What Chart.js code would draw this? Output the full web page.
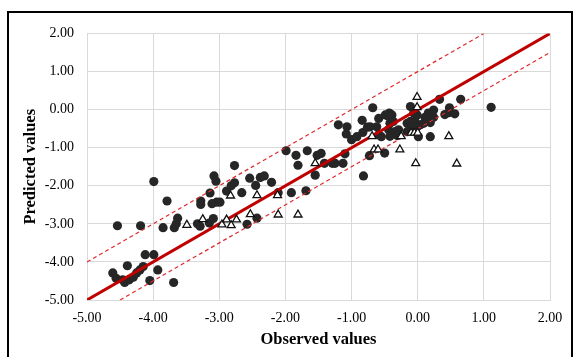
<!DOCTYPE html>
<html>
<head>
<meta charset="utf-8">
<script src="https://cdn.jsdelivr.net/npm/chart.js@4.4.1/dist/chart.umd.min.js"></script>
<style>
  html, body { margin: 0; padding: 0; background: #fff; }
  #wrap { position: relative; width: 576px; height: 357px; overflow: hidden; }
  #frame { position: absolute; left: 7px; top: 11px; width: 562px; height: 400px; border: 2px solid #000; pointer-events: none; }
  canvas { position: absolute; left: 0; top: 0; }
</style>
</head>
<body>
<div id="wrap">
  <canvas id="c" width="576" height="357"></canvas>
  <div id="frame"></div>
</div>
<script>
// Training set (filled circles): observed / predicted
const dotObserved = [
  -4.61, -4.56, -4.46, -4.43, -4.36, -4.30, -4.25, -4.20, -4.15, -4.39,
  -4.12, -3.99, -4.05, -3.93, -3.69, -3.99, -3.79, -4.54, -4.19, -3.85,
  -3.68, -3.63, -3.65, -3.33, -3.29, -3.15, -3.09, -3.28, -3.28, -3.14,
  -3.11, -3.04, -2.99, -3.08, -3.05, -2.89, -2.82, -2.77, -2.77, -2.66,
  -2.54, -2.45, -2.38, -2.32, -2.21, -2.11, -1.91, -1.69, -2.43, -2.58,
  -1.99, -1.84, -1.81, -1.67, -1.52, -1.46, -1.41, -1.29, -1.25, -1.13,
  -1.10, -1.55, -1.20, -1.07, -1.08, -1.00, -0.92, -0.84, -0.83, -0.76,
  -0.72, -0.68, -0.62, -0.59, -0.73, -0.50, -0.82, -0.59, -0.55, -0.49,
  -0.43, -0.39, -0.44, -0.42, -0.37, -0.44, -0.34, -0.29, -0.42, -0.31,
  -0.16, -0.11, -0.09, -0.04, -0.11, -0.06, -0.01, -0.06, -0.01, 0.04,
  -0.16, -0.09, -0.04, 0.01, 0.09, 0.11, 0.16, 0.21, 0.24, 0.14,
  0.19, 0.24, 0.19, 0.33, 0.41, 0.47, 0.48, 0.56, 0.65, 1.11
];
const dotPredicted = [
  -4.29, -4.43, -4.47, -4.54, -4.47, -4.40, -4.29, -4.21, -4.12, -4.10,
  -3.81, -3.81, -4.49, -4.21, -4.54, -1.89, -2.40, -3.05, -3.05, -3.10,
  -3.10, -2.85, -3.00, -3.00, -3.06, -2.98, -2.86, -2.40, -2.49, -2.19,
  -2.47, -2.43, -2.43, -1.74, -1.88, -2.14, -2.00, -1.92, -1.47, -2.18,
  -1.80, -1.99, -1.78, -1.74, -1.91, -2.18, -2.18, -2.13, -2.85, -3.01,
  -1.08, -1.20, -1.46, -1.08, -1.20, -1.15, -1.41, -1.41, -1.41, -1.41,
  -1.16, -1.72, -0.40, -0.45, -0.64, -0.79, -0.71, -0.28, -0.60, -0.46,
  -0.45, 0.05, -0.45, -0.66, -1.21, -1.14, -1.74, -0.23, -0.71, -0.14,
  -0.09, -0.14, -0.18, -0.36, -0.31, -0.53, -0.58, -0.53, -0.70, -0.68,
  -0.36, -0.31, -0.40, -0.31, 0.08, -0.09, -0.14, -0.49, -0.45, -0.40,
  -0.58, -0.53, -0.58, -0.71, -0.36, -0.20, -0.09, -0.14, -0.01, -0.27,
  -0.34, -0.20, -0.71, 0.27, -0.13, -0.08, 0.05, -0.11, 0.27, 0.06
];
// Test set (open triangles)
const triObserved = [
  -3.49, -3.25, -2.96, -2.89, -2.82, -2.74, -2.83, -2.53, -2.43, -2.12,
  -2.11, -1.81, -1.55, -0.69, -0.66, -0.60, -0.25, -0.27, -0.01, -0.01,
  -0.10, -0.05, 0.00, 0.47, -0.03, 0.59
];
const triPredicted = [
  -3.03, -2.88, -3.02, -2.89, -3.04, -2.89, -2.26, -2.75, -2.25, -2.25,
  -2.76, -2.76, -1.41, -0.70, -1.05, -1.05, -0.70, -1.05, 0.33, 0.06,
  -0.61, -0.61, -0.61, -0.70, -1.41, -1.42
];
// Reference lines
const idealX = [-5, 2],   idealY = [-5, 2];
const upperX = [-5, 1],   upperY = [-4, 2];
const lowerX = [-4.5, 2], lowerY = [-5, 1.5];
const tickValues = [-5, -4, -3, -2, -1, 0, 1, 2];

const pts = (xs, ys) => xs.map((x, i) => ({ x: x, y: ys[i] }));

const serif = "'Liberation Serif', 'Times New Roman', serif";

new Chart(document.getElementById('c'), {
  type: 'scatter',
  data: {
    datasets: [
      {
        label: 'Test', data: pts(triObserved, triPredicted),
        pointStyle: 'triangle', pointRadius: 4.6, pointBackgroundColor: '#ffffff',
        pointBorderColor: '#111111', pointBorderWidth: 1.3, showLine: false
      },
      {
        label: 'Ideal', data: pts(idealX, idealY), showLine: true,
        borderColor: '#c00000', borderWidth: 3, pointRadius: 0
      },
      {
        label: 'Upper', data: pts(upperX, upperY), showLine: true,
        borderColor: '#e0292b', borderWidth: 1.2, borderDash: [4, 3], pointRadius: 0
      },
      {
        label: 'Lower', data: pts(lowerX, lowerY), showLine: true,
        borderColor: '#e0292b', borderWidth: 1.2, borderDash: [4, 3], pointRadius: 0
      },
      {
        label: 'Training', data: pts(dotObserved, dotPredicted),
        pointStyle: 'circle', pointRadius: 4.6, pointBackgroundColor: '#262626',
        pointBorderColor: '#262626', pointBorderWidth: 0, showLine: false
      }
    ]
  },
  options: {
    responsive: false,
    animation: false,
    layout: { padding: { left: 10, right: 26, top: 33.5, bottom: 2 } },
    plugins: { legend: { display: false }, tooltip: { enabled: false } },
    scales: {
      x: {
        type: 'linear', min: -5, max: 2,
        afterBuildTicks: s => { s.ticks = tickValues.map(v => ({ value: v })); },
        afterFit: s => { s.height = 55; },
        ticks: { callback: v => v.toFixed(2), color: '#000', padding: 10, font: { family: serif, size: 14 }, maxRotation: 0 },
        grid: { color: '#d9d9d9', lineWidth: 1, drawTicks: false },
        border: { color: '#d9d9d9', width: 1 },
        title: { display: true, text: 'Observed values', color: '#000', padding: { top: 0, bottom: 5 }, font: { family: serif, size: 16.5, weight: 'bold' } }
      },
      y: {
        type: 'linear', min: -5, max: 2,
        afterBuildTicks: s => { s.ticks = tickValues.map(v => ({ value: v })); },
        afterFit: s => { s.width = 77; },
        ticks: { callback: v => v.toFixed(2), color: '#000', padding: 13, font: { family: serif, size: 14 } },
        grid: { color: '#d9d9d9', lineWidth: 1, drawTicks: false },
        border: { color: '#d9d9d9', width: 1 },
        title: { display: true, text: 'Predicted values', color: '#000', padding: { top: 11, bottom: 0 }, font: { family: serif, size: 16.5, weight: 'bold' } }
      }
    }
  }
});
</script>
</body>
</html>
